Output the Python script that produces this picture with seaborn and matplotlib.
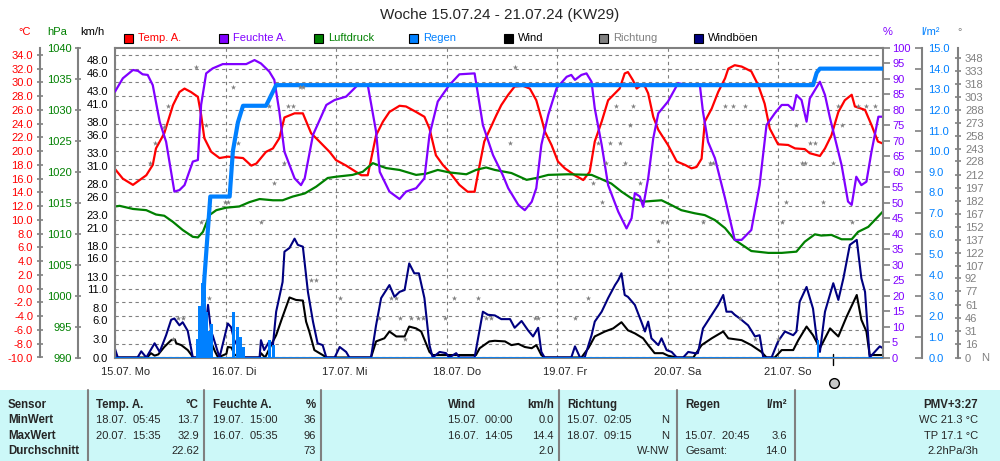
import numpy as np
import seaborn as sns
import matplotlib
matplotlib.use('Agg')
import matplotlib.pyplot as plt
from matplotlib import font_manager
from matplotlib.lines import Line2D
from matplotlib.patches import Rectangle
from matplotlib.transforms import ScaledTranslation, blended_transform_factory

# --- data (hours since 15.07. 00:00) ---
temp_h = [0, 1.7, 3.9, 6.8, 8.2, 8.9, 10.7, 12.6, 14.0, 15.1, 16.5, 18.0, 18.7, 19.4, 20.9, 22.7, 24.5, 27.8,
          29.6, 30.7, 32.8, 34.3, 35.7, 36.8, 39.0, 40.8, 42.6, 44.4, 46.6, 48.0, 50.2, 53.5, 54.9, 56.7, 58.2,
          59.6, 61.8, 63.2, 65.4, 67.2, 68.3, 69.7, 71.2, 72.6, 74.8, 76.6, 78.1, 79.2, 80.2, 82.8, 83.9, 85.4,
          86.8, 88.6, 90.1, 91.5, 92.6, 93.4, 94.8, 96.2, 97.7, 99.9, 101.7, 103.1, 104.2, 105.7, 107.1, 109.6,
          110.7, 111.4, 112.5, 113.3, 114.3, 115.1, 115.8, 116.9, 118.0, 120.1, 122.0, 123.8, 125.2, 126.3,
          127.4, 128.1, 129.6, 131.0, 132.5, 133.2, 134.6, 136.1, 138.2, 139.7, 141.1, 142.2, 144.0, 146.2,
          147.7, 149.8, 150.9, 153.1, 154.2, 155.6, 157.1, 158.5, 160.0, 160.7, 162.9, 164.3, 165.7, 166.8]
temp_c = [17.4, 16.0, 15.1, 16.5, 18.0, 20.4, 22.6, 26.7, 28.6, 29.1, 28.6, 27.9, 25.3, 21.9, 19.9, 19.0, 19.2, 19.0,
          17.9, 18.2, 19.9, 20.4, 21.9, 24.9, 25.5, 25.5, 22.6, 21.4, 19.9, 18.7, 17.9, 16.5, 16.5, 22.3, 24.3,
          25.7, 26.6, 26.5, 25.7, 25.0, 23.3, 19.4, 18.0, 17.0, 15.1, 14.1, 14.1, 18.0, 21.4, 25.2, 26.7, 28.2,
          29.4, 29.5, 29.1, 27.4, 24.8, 22.8, 20.9, 18.5, 17.5, 16.5, 15.8, 17.0, 21.4, 24.3, 27.4, 29.1,
          31.3, 31.5, 30.3, 29.1, 29.6, 29.4, 28.4, 25.0, 23.1, 20.9, 18.5, 18.0, 17.5, 17.7,
          18.9, 24.3, 26.2, 28.6, 30.6, 32.0, 32.5, 32.3, 31.6, 29.6, 26.9, 23.3, 21.0, 20.9,
          20.4, 20.3, 19.7, 19.3, 20.4, 22.3, 25.7, 27.4, 28.2, 26.5, 26.0, 23.8, 21.4, 21.1]

hum_h = [0, 1.7, 3.9, 5.0, 6.0, 7.1, 8.2, 9.7, 11.1, 12.9, 14.0, 15.1, 16.9, 18.0, 18.7, 19.8, 21.2, 23.4, 28.5,
         30.3, 31.7, 33.5, 34.6, 35.7, 36.8, 39.0, 40.4, 41.2, 43.0, 45.9, 47.7, 50.2, 52.7, 54.9, 56.7, 57.5,
         59.6, 61.8, 63.2, 65.4, 67.2, 68.3, 70.1, 72.6, 74.8, 78.1, 79.9, 82.1, 84.2, 85.4, 87.6, 89.0, 90.5,
         91.5, 92.6, 94.1, 95.9, 98.1, 99.1, 99.9, 101.3, 102.4, 103.5, 104.2, 105.7, 107.1, 109.3, 111.1,
         112.2, 112.9, 114.0, 114.7, 115.8, 116.9, 118.0, 120.1, 122.3, 124.5, 127.0, 127.7, 128.8, 130.3,
         132.5, 134.6, 136.1, 138.2, 140.0, 141.5, 143.3, 144.8, 146.2, 147.3, 148.0, 149.1, 150.2, 150.9,
         152.0, 153.1, 154.2, 155.3, 157.8, 159.2, 160.0, 161.0, 162.1, 163.2, 164.3, 165.8, 166.8]
hum_pct = [85.9, 90.2, 92.9, 92.6, 91.5, 91.3, 88.0, 76.2, 69.7, 53.6, 54.1, 55.7, 63.3, 63.8, 81.6, 91.8, 93.4, 94.8, 94.8,
           96.1, 95.0, 92.4, 89.7, 79.4, 66.5, 57.9, 55.7, 57.9, 71.9, 81.6, 83.2, 84.3, 88.0, 88.0, 73.0, 60.0,
           53.6, 51.2, 53.6, 54.7, 57.9, 71.9, 82.7, 88.0, 91.5, 91.8, 75.1, 65.4, 59.0, 54.7, 49.3, 47.6, 50.3,
           54.7, 68.7, 78.4, 87.0, 90.7, 91.3, 89.7, 91.3, 91.8, 89.1, 80.5, 68.7, 55.7, 47.1, 41.7,
           45.0, 53.1, 52.0, 48.7, 57.9, 70.8, 78.9, 82.7, 88.6, 88.0, 88.3, 79.4, 69.7, 64.4,
           51.4, 38.0, 38.0, 41.2, 55.7, 75.1, 78.9, 81.6, 81.6, 80.0, 84.8, 83.2, 76.2, 83.7,
           86.4, 89.1, 84.8, 77.3, 62.2, 50.4, 49.3, 58.4, 55.7, 56.8, 66.5, 77.8, 77.8]

pres_h = [0, 1.0, 3.9, 6.8, 8.9, 10.7, 12.6, 14.7, 16.9, 18.0, 19.1, 20.5, 22.0, 24.1, 27.0, 29.2, 31.4, 34.3, 36.4,
          38.6, 41.2, 43.7, 46.2, 48.0, 51.6, 53.8, 56.0, 57.4, 58.9, 61.8, 65.4, 67.6, 70.1, 72.6, 76.3, 78.4,
          80.6, 82.5, 86.1, 89.4, 91.5, 94.1, 98.4, 103.5, 105.7, 107.8, 110.0, 112.2, 115.1, 118.7, 120.9,
          123.0, 125.9, 128.1, 130.3, 132.5, 134.6, 138.2, 141.9, 144.8, 148.0, 149.8, 152.0, 153.4, 155.6,
          157.8, 160.0, 161.4, 163.6, 166.8]
pres_hpa = [1014.4, 1014.5, 1014.0, 1013.8, 1013.1, 1012.9, 1011.9, 1010.6, 1009.5, 1009.4, 1010.3, 1013.0, 1013.8,
            1014.2, 1014.4, 1015.1, 1015.6, 1015.4, 1015.4, 1016.0, 1016.5, 1017.6, 1019.0, 1019.2, 1019.5, 1020.0,
            1021.4, 1021.0, 1020.6, 1020.3, 1019.5, 1019.7, 1020.3, 1019.9, 1019.6, 1020.3, 1020.7, 1020.3, 1019.8,
            1018.7, 1019.0, 1019.5, 1019.6, 1019.5, 1018.8, 1018.1, 1016.8, 1015.7, 1015.2, 1015.4, 1014.6, 1013.8,
            1013.3, 1013.0, 1012.2, 1010.9, 1009.0, 1007.2, 1006.9, 1006.9, 1007.1, 1008.7, 1009.9, 1009.7, 1009.8,
            1009.1, 1009.1, 1010.3, 1011.1, 1013.6]

rain_sum_h = [18.5, 19.4, 20.7, 24.9, 25.6, 26.7, 27.8, 32.8, 35.0, 151.6, 152.4, 153.1, 166.8]
rain_sum_mm = [0.0, 3.8, 7.8, 7.8, 10.0, 11.4, 12.2, 12.2, 13.2, 13.2, 13.8, 14.0, 14.0]
rain_bar_h = [17.9, 18.4, 18.9, 19.4, 19.9, 20.4, 20.9, 25.8, 26.6, 27.3, 27.9, 33.5, 34.5, 152.7]
rain_bar_mm = [0.9, 2.5, 3.6, 3.6, 2.2, 1.3, 1.6, 2.2, 1.5, 1.0, 0.5, 0.85, 0.6, 0.85]

gust_h = [0, 0.6, 4.9, 5.7, 6.8, 8.6, 9.7, 11.1, 12.2, 12.9, 14.0, 14.7, 15.8, 16.9, 18.9, 19.5, 20.2, 20.9,
          21.2, 22.7, 24.5, 25.2, 25.9, 27.0, 28.1, 31.4, 31.7, 32.4, 33.5, 34.3, 35.0, 36.4, 36.8, 37.9, 39.0,
          39.7, 40.8, 41.9, 43.0, 44.0, 45.1, 45.9, 47.7, 48.8, 50.2, 50.9, 55.6, 56.7, 57.8, 59.6, 60.7, 61.8,
          62.9, 63.9, 65.0, 66.0, 67.2, 68.3, 69.0, 70.5, 71.9, 72.6, 74.1, 74.8, 78.1, 79.9, 81.0, 82.5, 83.9,
          85.8, 86.8, 88.3, 89.7, 90.8, 91.9, 92.6, 93.3, 99.1, 99.9, 101.0, 102.0, 103.5, 104.2, 105.7, 107.1,
          108.6, 109.3, 110.0, 110.7, 111.4, 112.9, 114.3, 115.1, 115.8, 116.5, 118.0, 118.7, 119.8, 120.9,
          122.0, 123.4, 124.5, 125.9, 126.6, 127.7, 129.6, 131.0, 132.1, 132.8, 133.9, 134.6, 135.7, 137.5,
          139.0, 140.0, 140.8, 142.6, 144.0, 145.5, 147.3, 148.0, 148.7, 150.2, 151.6, 152.4, 153.1, 154.2,
          156.0, 157.1, 158.2, 159.6, 161.1, 162.1, 162.9, 163.9, 165.0, 166.1, 166.8]
gust_kmh = [1.4, 0, 0, 1.0, 0, 2.3, 0.9, 3.6, 6.1, 6.3, 5.2, 5.7, 4.3, 0, 0, 3.4, 8.5, 4.0,
            3.6, 0, 5.5, 4.9, 2.8, 1.5, 0, 0, 2.8, 1.2, 2.6, 2.0, 7.4, 12.2, 17.1, 17.7, 19.2,
            18.2, 17.9, 10.6, 5.8, 2.3, 2.0, 0, 0, 1.7, 0.9, 0, 0, 5.2, 9.6, 11.7, 9.8, 10.6,
            10.9, 15.2, 13.6, 13.6, 9.6, 2.0, 0, 0.9, 0.7, 0, 0.7, 0, 0, 7.4, 6.9, 6.8, 6.2,
            6.2, 4.8, 5.9, 4.4, 3.4, 4.8, 0.9, 0, 0, 1.8, 0, 0, 3.6, 5.8, 7.4, 9.6,
            11.7, 12.5, 13.6, 10.1, 9.8, 8.5, 5.8, 4.2, 5.8, 3.1, 2.0, 3.1, 1.2, 0.9,
            0, 0, 0.9, 0.7, 0.7, 4.7, 6.9, 8.5, 10.1, 7.4, 7.4, 6.9, 6.3, 5.2,
            3.4, 3.6, 0, 0, 2.6, 4.2, 3.6, 4.2, 9.0, 11.4, 7.9, 3.1, 0.9, 7.4,
            12.0, 9.3, 12.8, 18.2, 19.0, 12.8, 10.6, 0, 0.9, 1.8, 1.5]

wind_h = [0, 7.0, 7.8, 8.6, 9.4, 10.7, 12.2, 13.0, 13.3, 14.4, 15.8, 16.6, 16.9, 18.9, 19.5, 20.2, 20.7, 21.7,
          22.4, 24.2, 24.5, 25.3, 26.0, 28.1, 31.4, 31.7, 32.6, 34.3, 35.0, 36.4, 37.9, 39.3, 40.8, 41.5, 42.2,
          43.3, 45.1, 45.9, 55.6, 56.7, 58.5, 59.6, 61.1, 62.9, 63.9, 65.4, 66.5, 68.3, 69.0, 78.4, 79.2, 81.3,
          82.5, 84.7, 86.1, 87.6, 89.0, 90.5, 91.5, 92.6, 93.3, 101.3, 102.8, 104.2, 106.4, 108.2, 110.0, 111.4,
          112.9, 114.7, 115.8, 117.2, 119.0, 120.1, 122.0, 125.6, 127.4, 129.6, 132.1, 133.2, 136.1, 138.2,
          140.4, 141.5, 143.3, 144.8, 147.3, 148.4, 150.2, 151.6, 153.1, 155.3, 157.1, 158.9, 161.1, 162.1,
          163.2, 163.9, 166.8]
wind_kmh = [0, 0, 0.7, 0.3, 0.5, 1.7, 2.8, 2.9, 2.3, 2.0, 1.2, 0.4, 0, 0, 1.6, 3.7, 2.8, 1.0,
            0, 0.6, 1.7, 1.6, 0.4, 0, 0, 0.7, 0, 2.6, 3.6, 6.6, 9.7, 9.3, 9.2, 5.8, 4.2,
            1.2, 0.4, 0, 0, 2.6, 3.1, 4.2, 3.4, 3.4, 5.0, 4.7, 4.2, 0.9, 0.4, 0.4, 1.5, 2.6,
            2.7, 2.6, 2.0, 2.2, 1.7, 1.5, 2.0, 0.4, 0, 0, 1.5, 3.4, 4.2, 4.7, 5.7, 4.4,
            3.9, 3.1, 2.0, 0.7, 0.7, 0.3, 0, 0, 2.0, 3.1, 4.2, 3.1, 2.8, 2.0,
            0.9, 0, 0, 1.2, 1.2, 2.8, 5.0, 3.6, 1.5, 4.7, 3.4, 6.6, 10.1, 6.1,
            4.2, 0.4, 0.4]

dir_h = [7.5, 8.6, 10.7, 11.5, 12.6, 13.6, 14.7, 17.6, 18.7, 19.8, 20.5, 23.8, 24.5, 25.6, 26.7, 31.7, 33.5,
         34.6, 36.8, 37.5, 38.6, 40.1, 40.8, 42.6, 43.7, 48.8, 57.4, 60.0, 61.1, 61.8, 62.9, 64.3, 65.8, 66.9,
         71.6, 73.7, 78.8, 80.6, 81.7, 85.7, 86.8, 91.2, 91.9, 99.9, 102.8, 103.8, 104.9, 105.7, 106.7, 107.5,
         108.9, 109.6, 110.7, 111.8, 112.5, 114.0, 118.0, 118.7, 119.8, 127.7, 129.2, 129.9, 132.5, 134.3,
         135.7, 136.8, 139.0, 144.0, 144.8, 145.8, 148.0, 149.1, 149.8, 150.9, 152.0, 153.8, 156.0, 157.1,
         157.8, 160.0, 161.4, 163.2, 165.0]
dir_deg = [226, 249, 268, 292, 22, 46, 46, 338, 158, 270, 69, 181, 181, 315, 249, 158, 292,
           203, 226, 292, 292, 315, 315, 90, 90, 69, 46, 69, 69, 46, 22, 46, 46, 46,
           46, 69, 69, 46, 46, 249, 338, 46, 46, 46, 69, 203, 249, 181, 226, 249,
           292, 249, 226, 270, 292, 203, 135, 158, 158, 158, 226, 226, 292, 292,
           46, 292, 22, 22, 158, 181, 270, 226, 226, 249, 249, 181, 226, 292,
           270, 158, 292, 292, 292]

now_h = 156.0
day_labels = ['15.07. Mo', '16.07. Di', '17.07. Mi', '18.07. Do', '19.07. Fr', '20.07. Sa', '21.07. So']
kmh_ticks = [0, 3, 6, 8, 11, 13, 16, 18, 21, 23, 26, 28, 31, 33, 36, 38, 41, 43, 46, 48]
deg_ticks = [0, 16, 31, 46, 61, 77, 92, 107, 122, 137, 152, 167, 182, 197, 212, 228, 243, 258, 273, 288,
             303, 318, 333, 348]

legend_names = ['Temp. A.', 'Feuchte A.', 'Luftdruck', 'Regen', 'Wind', 'Richtung', 'Windböen']
legend_box = ['#ff0000', '#8000ff', '#008000', '#0080ff', '#000000', '#808080', '#000080']
legend_text = ['#ff0000', '#8000ff', '#008000', '#0080ff', '#000000', '#808080', '#000000']

row_names = ['Sensor', 'MinWert', 'MaxWert', 'Durchschnitt']
tab_temp = [('Temp. A.', '°C'), ('18.07.  05:45', '13.7'), ('20.07.  15:35', '32.9'), ('', '22.62')]
tab_hum = [('Feuchte A.', '%'), ('19.07.  15:00', '36'), ('16.07.  05:35', '96'), ('', '73')]
tab_wind = [('Wind', 'km/h'), ('15.07.  00:00', '0.0'), ('16.07.  14:05', '14.4'), ('', '2.0')]
tab_dir = [('Richtung', ''), ('15.07.  02:05', 'N'), ('18.07.  09:15', 'N'), ('', 'W-NW')]
tab_rain = [('Regen', 'l/m²'), ('', ''), ('15.07.  20:45', '3.6'), ('Gesamt:', '14.0')]
tab_pmv = ['PMV+3:27', 'WC 21.3 °C', 'TP 17.1 °C', '2.2hPa/3h']

# --- style ---
sns.set_style('white')
avail = {f.name for f in font_manager.fontManager.ttflist}
FONT = 'Liberation Sans Narrow' if 'Liberation Sans Narrow' in avail else 'Liberation Sans'
FS = 9.5 if FONT.endswith('Narrow') else 8
plt.rcParams['font.family'] = [FONT, 'DejaVu Sans']
GRAY = '#808080'

W, H = 1000, 461
fig = plt.figure(figsize=(10, 4.61), dpi=100)


def fx(x):
    return x / W


def fy(y):
    return 1 - y / H


ax_t = fig.add_axes([fx(115), fy(357.5), 768 / W, 309.5 / H])
ax_p = ax_t.twinx()
ax_w = ax_t.twinx()
ax_h = ax_t.twinx()
ax_r = ax_t.twinx()
ax_d = ax_t.twinx()


def one_spine(ax, side, pos):
    for s in ax.spines.values():
        s.set_visible(False)
    sp = ax.spines[side]
    sp.set_visible(True)
    sp.set_position(('axes', pos))
    sp.set_color(GRAY)
    sp.set_linewidth(1.5)
    if side == 'left':
        ax.yaxis.set_ticks_position('left')
    else:
        ax.yaxis.set_ticks_position('right')


one_spine(ax_t, 'left', -0.0977)
for s in ['top', 'bottom']:
    ax_t.spines[s].set_visible(True)
    ax_t.spines[s].set_color(GRAY)
    ax_t.spines[s].set_linewidth(1.5)
one_spine(ax_p, 'left', -0.0482)
one_spine(ax_w, 'left', 0.0)
one_spine(ax_h, 'right', 1.0)
one_spine(ax_r, 'right', 1.0508)
one_spine(ax_d, 'right', 1.0977)

# --- series ---
sns.lineplot(x=temp_h, y=temp_c, ax=ax_t, color='#ff0000', linewidth=1.6)
sns.lineplot(x=pres_h, y=pres_hpa, ax=ax_p, color='#008000', linewidth=1.6)
sns.lineplot(x=wind_h, y=wind_kmh, ax=ax_w, color='#000000', linewidth=1.5)
sns.lineplot(x=gust_h, y=gust_kmh, ax=ax_w, color='#000080', linewidth=1.5)
sns.lineplot(x=hum_h, y=hum_pct, ax=ax_h, color='#8000ff', linewidth=1.6)
ax_r.bar(rain_bar_h, rain_bar_mm, width=0.6, color='#0080ff', linewidth=0)
ax_r.axhline(0, color='#0080ff', linewidth=1.2)
sns.lineplot(x=rain_sum_h, y=rain_sum_mm, ax=ax_r, color='#0080ff', linewidth=3)
sns.scatterplot(x=dir_h, y=dir_deg, ax=ax_d, color=GRAY, marker='*', s=16, linewidth=0)

for ax in [ax_t, ax_p, ax_w, ax_h, ax_r, ax_d]:
    ax.set_xlabel('')
    ax.set_ylabel('')

ax_t.set_xlim(0, 166.8)

# --- y axes ---
t_ticks = np.arange(-10, 35, 2)
ax_t.set_ylim(-10, 35)
ax_t.set_yticks(t_ticks, labels=[f'{v:.1f}' for v in t_ticks])
ax_t.tick_params(axis='y', direction='inout', length=5, width=1.2, color=GRAY, labelcolor='#ff0000',
                 labelsize=FS, pad=2.5)

p_ticks = np.arange(990, 1041, 5)
ax_p.set_ylim(990, 1040)
ax_p.set_yticks(p_ticks, labels=[f'{v}' for v in p_ticks])
ax_p.tick_params(axis='y', direction='inout', length=5, width=1.2, color=GRAY, labelcolor='#008000',
                 labelsize=FS, pad=2)

ax_w.set_ylim(0, 50)
ax_w.set_yticks(kmh_ticks, labels=[f'{v:.1f}' for v in kmh_ticks])
ax_w.tick_params(axis='y', length=0, labelcolor='#000000', labelsize=FS, pad=5)

h_ticks = np.arange(0, 101, 5)
ax_h.set_ylim(0, 100)
ax_h.set_yticks(h_ticks, labels=[f'{v}' for v in h_ticks])
ax_h.tick_params(axis='y', direction='out', length=5, width=1.2, color=GRAY, labelcolor='#8000ff',
                 labelsize=FS, pad=1.5)

r_ticks = np.arange(0, 16, 1)
ax_r.set_ylim(0, 15)
ax_r.set_yticks(r_ticks, labels=[f'{v:.1f}' for v in r_ticks])
ax_r.tick_params(axis='y', direction='in', length=5, width=1.2, color=GRAY, labelcolor='#0080ff',
                 labelsize=FS, pad=4.5)

ax_d.set_ylim(0, 360)
ax_d.set_yticks(deg_ticks, labels=[f'{v}' for v in deg_ticks])
ax_d.tick_params(axis='y', direction='inout', length=4, width=1.2, color=GRAY, labelcolor=GRAY,
                 labelsize=FS, pad=3)

# --- x axis / grid ---
ax_t.set_xticks([24 * i for i in range(7)], labels=day_labels)
ax_t.tick_params(axis='x', direction='out', length=5, width=1.2, color=GRAY, labelsize=FS, pad=2)
shift = ScaledTranslation(-14 / 100, 0, fig.dpi_scale_trans)
for lab in ax_t.get_xticklabels():
    lab.set_ha('left')
    lab.set_transform(lab.get_transform() + shift)
ax_t.set_axisbelow(True)
ax_t.grid(True, color=GRAY, linestyle=(0, (3, 3)), linewidth=0.8)

trans = blended_transform_factory(ax_t.transData, ax_t.transAxes)
ax_t.plot([now_h, now_h], [0.01, -0.025], transform=trans, color='black', linewidth=1, clip_on=False)
fig.add_artist(Line2D([fx(834)], [fy(383)], marker='o', markersize=7, markerfacecolor='#c8c8c8',
                      markeredgecolor='black', markeredgewidth=1))

# --- texts above ---
fig.text(0.5, fy(15), 'Woche 15.07.24 - 21.07.24 (KW29)', ha='center', va='center', fontsize=11,
         family='Liberation Sans')
units = [(25, '°C', '#ff0000'), (57, 'hPa', '#008000'), (92, 'km/h', '#000000'),
         (888, '%', '#8000ff'), (931, 'l/m²', '#0080ff'), (960, '°', GRAY)]
for x, t, c in units:
    fig.text(fx(x), fy(32), t, ha='center', va='center', color=c, fontsize=FS)
fig.text(fx(985), fy(358), 'N', ha='center', va='center', color=GRAY, fontsize=FS)

for i, (name, bc, tc) in enumerate(zip(legend_names, legend_box, legend_text)):
    x0 = 124 + 95 * i
    fig.add_artist(Rectangle((fx(x0), fy(42.8)), 9 / W, 9 / H, transform=fig.transFigure,
                             facecolor=bc, edgecolor='black', linewidth=0.8))
    fig.text(fx(x0 + 14), fy(38.3), name, ha='left', va='center', color=tc, fontsize=FS)

# --- summary table ---
fig.add_artist(Rectangle((0, 0), 1, fy(390), transform=fig.transFigure, facecolor='#ccf8f8',
                         edgecolor='none', zorder=0))
for x in [88, 204, 321, 559, 677, 795]:
    fig.add_artist(Line2D([fx(x), fx(x)], [0, fy(390)], color=GRAY, linewidth=1.5))

row_y = [405, 420, 436, 451]
for y, name in zip(row_y, row_names):
    fig.text(fx(8), fy(y), name, ha='left', va='center', fontsize=FS + 0.3, fontweight='bold')

for cells, (xl, xr) in [(tab_temp, (96, 199)), (tab_hum, (213, 316)), (tab_wind, (448, 554)),
                        (tab_dir, (567, 669)), (tab_rain, (685, 787))]:
    for k, (y, (left, right)) in enumerate(zip(row_y, cells)):
        bold = k == 0
        fs = FS + 0.3 if bold else FS
        w = 'bold' if bold else 'normal'
        fig.text(fx(xl), fy(y), left, ha='left', va='center', fontsize=fs, fontweight=w)
        fig.text(fx(xr), fy(y), right, ha='right', va='center', fontsize=fs, fontweight=w)
for k, (y, t) in enumerate(zip(row_y, tab_pmv)):
    fig.text(fx(978), fy(y), t, ha='right', va='center', fontsize=FS + 0.3 if k == 0 else FS,
             fontweight='bold' if k == 0 else 'normal')

fig.savefig('out.png', dpi=100)
